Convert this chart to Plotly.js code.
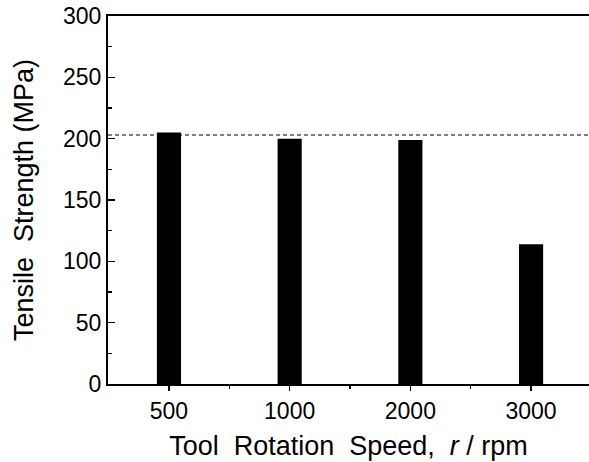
<!DOCTYPE html>
<html>
<head>
<meta charset="utf-8">
<script src="https://cdn.plot.ly/plotly-3.0.1.min.js"></script>
<style>html,body{margin:0;padding:0;background:#fff;}#chart{width:589px;height:462px;}</style>
</head>
<body>
<div id="chart"></div>
<script>
const speeds = ["500", "1000", "2000", "3000"];
const strength = [205, 200, 199, 114];
const referenceLevel = 203;
const yTickVals = [0, 50, 100, 150, 200, 250, 300];

const xIdx = speeds.map((_, i) => i);
const font = "Liberation Sans, Arial, sans-serif";

const data = [{
  type: "bar",
  x: xIdx,
  y: strength,
  width: 0.2,
  marker: {color: "#000", line: {width: 0}},
  hoverinfo: "skip"
}];

const layout = {
  width: 589, height: 462,
  margin: {l: 108, r: 0, t: 16, b: 78},
  paper_bgcolor: "#fff", plot_bgcolor: "#fff",
  showlegend: false,
  font: {family: font, color: "#000", size: 23},
  xaxis: {
    range: [-0.505, 3.48],
    tickmode: "array", tickvals: xIdx, ticktext: speeds,
    ticks: "outside", ticklen: 5, tickwidth: 1.5, tickcolor: "#000",
    minor: {tickmode: "array", tickvals: xIdx.slice(0, -1).map(v => v + 0.5), ticks: "outside", ticklen: 3, tickwidth: 1.5, tickcolor: "#000"},
    showline: true, linecolor: "#000", linewidth: 2, mirror: true,
    showgrid: false, zeroline: false,
    tickfont: {size: 23, family: font},
    title: {text: "Tool  Rotation  Speed,  <i>r</i> / rpm", font: {size: 27, family: font}, standoff: 14}
  },
  yaxis: {
    range: [0, 300],
    tickmode: "array", tickvals: yTickVals,
    ticks: "inside", ticklen: 7, tickwidth: 1.5, tickcolor: "#000",
    minor: {tickmode: "array", tickvals: yTickVals.slice(0, -1).map(v => v + 25), ticks: "inside", ticklen: 4, tickwidth: 1.5, tickcolor: "#000"},
    showline: true, linecolor: "#000", linewidth: 2,
    showgrid: false, zeroline: false,
    tickfont: {size: 23, family: font},
    title: {text: "Tensile  Strength (MPa)", font: {size: 27, family: font}, standoff: 22}
  },
  shapes: [{
    type: "line", xref: "paper", yref: "y",
    x0: 0, x1: 1, y0: referenceLevel, y1: referenceLevel,
    line: {color: "#000", width: 1.2, dash: "4px,3px"}
  }]
};

Plotly.newPlot("chart", data, layout, {displayModeBar: false, staticPlot: true});
</script>
</body>
</html>
